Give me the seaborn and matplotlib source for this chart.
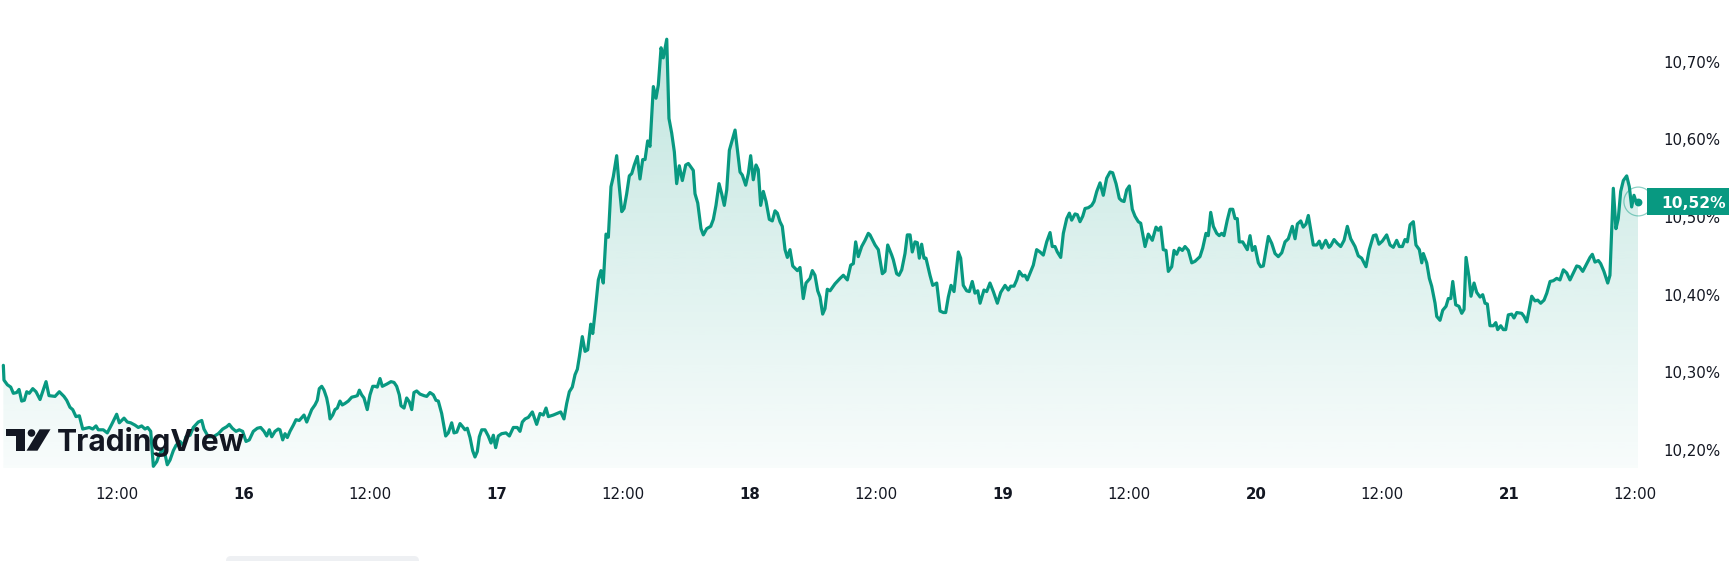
import numpy as np
import pandas as pd
import matplotlib
matplotlib.use("Agg")
import matplotlib.pyplot as plt
import matplotlib.transforms as mtransforms
from matplotlib.colors import LinearSegmentedColormap
from matplotlib.patches import Polygon, Rectangle, Circle, FancyBboxPatch
import seaborn as sns

# ---------------- data (hours since 15th 00:00, yield in %) ----------------
hours = [
    1.19, 1.25, 1.57, 1.89, 2.14, 2.46, 2.68, 2.93, 3.18, 3.41, 3.65, 3.98, 4.29, 4.67, 4.92,
    5.24, 5.52, 6.09, 6.50, 6.94, 7.20, 7.51, 7.77, 8.08, 8.40, 8.72, 9.03, 9.34, 9.67, 9.98,
    10.20, 10.67, 11.05, 11.47, 11.94, 12.19, 12.64, 12.95, 13.27, 13.68, 13.99, 14.31, 14.63, 14.88, 15.17,
    15.42, 15.74, 15.98, 16.27, 16.52, 16.74, 17.00, 17.31, 17.57, 17.95, 18.26, 18.52, 18.90, 19.21, 19.68,
    20.01, 20.22, 20.63, 21.11, 21.58, 22.00, 22.38, 22.62, 22.91, 23.26, 23.57, 23.89, 24.21, 24.52, 24.90,
    25.28, 25.60, 25.92, 26.17, 26.42, 26.65, 26.96, 27.27,
    27.43, 27.69, 27.91, 28.13, 28.38, 28.70, 28.95, 29.26, 29.71, 29.97, 30.21, 30.44, 30.75, 30.97, 31.16,
    31.39, 31.61, 31.86, 32.02, 32.18, 32.43, 32.65, 32.87, 33.12, 33.34, 33.60, 33.91, 34.24, 34.55, 34.77,
    34.96, 35.18, 35.40, 35.71, 35.97, 36.23, 36.45, 36.66, 36.92, 37.14, 37.58, 37.96, 38.25, 38.50, 38.75,
    38.91, 39.20, 39.45, 39.70, 39.93, 40.14, 40.40, 40.71, 41.09, 41.35, 41.66, 41.98, 42.23, 42.45, 42.77,
    43.15, 43.40, 43.72, 43.94, 44.20, 44.51, 44.76, 44.98, 45.20, 45.46, 45.71, 45.93, 46.15, 46.34, 46.57,
    46.88, 47.19, 47.45, 47.67, 47.89, 48.14, 48.46, 48.87, 49.19, 49.57, 49.94, 50.20, 50.42, 50.68, 50.99,
    51.37, 51.78, 52.10,
    52.41, 52.67, 52.89, 53.36, 54.06, 54.37, 54.63, 54.88, 55.16, 55.42, 55.64, 55.83, 56.11, 56.37, 56.62,
    56.91, 57.10, 57.31, 57.63, 57.88, 58.10, 58.36, 58.58, 58.83, 59.05, 59.37, 59.59, 59.85, 60.07, 60.32,
    60.57, 60.80, 61.04, 61.33, 61.58, 61.84, 62.06, 62.31, 62.53, 62.85, 63.10, 63.32, 63.58, 63.79, 64.12,
    64.33, 64.59, 64.84, 65.06, 65.31, 65.60, 65.92, 66.17, 66.64, 66.80, 67.06, 67.37, 67.59, 67.91, 68.29,
    68.54, 68.79, 69.08, 69.33, 69.58, 69.81, 70.06, 70.60, 71.07, 71.29, 71.61, 71.86, 72.08, 72.33, 72.59,
    72.80, 73.03, 73.28, 73.54, 73.85, 74.13, 74.39, 74.61, 74.86, 75.08, 75.34, 75.56, 75.81, 76.07, 76.51,
    76.76, 77.07, 77.33, 77.71, 77.93, 78.18, 78.44, 78.66,
    78.91, 79.13, 79.35, 79.61, 80.08, 80.56, 80.87, 81.25, 81.57, 81.82, 82.04, 82.29, 82.61, 82.93, 83.24,
    83.40, 83.88, 84.19, 84.57, 84.82, 85.08, 85.46, 85.61, 85.93, 86.15, 86.41, 86.72, 86.94, 87.20, 87.41,
    87.67, 87.89, 88.08, 88.30, 88.52, 88.71, 89.09, 89.35, 89.73, 90.04, 90.36, 90.58, 90.83, 91.09, 91.37,
    91.78, 92.00, 92.25, 92.57, 92.82, 93.10, 93.36, 93.62, 93.84, 94.21, 94.47, 94.78, 95.10, 95.48, 95.80,
    96.21, 96.52, 96.75, 97.06, 97.32, 97.56, 97.89, 98.10, 98.32, 98.65, 98.89, 99.21, 99.53, 99.84, 100.16,
    100.48, 100.69, 100.95, 101.17, 101.49, 101.74, 102.06, 102.31, 102.53, 102.85, 103.07, 103.32, 103.58, 103.80, 104.11,
    104.43, 104.65, 104.91, 105.22, 105.53, 105.85, 106.17, 106.42, 106.74, 107.05, 107.28, 107.50, 107.75, 108.00, 108.28,
    108.54, 108.85, 109.08, 109.49, 109.80, 110.18, 110.53, 110.75, 110.98, 111.22, 111.48, 111.70, 112.02, 112.24, 112.49,
    112.74, 113.03, 113.28, 113.60, 113.92, 114.23, 114.70, 114.96, 115.27, 115.49, 115.72, 115.97, 116.29, 116.53, 116.76,
    116.98, 117.29, 117.55, 117.81, 118.03, 118.24, 118.43, 118.75, 119.19, 119.45, 119.67, 119.92, 120.24, 120.46, 120.71,
    121.19, 121.51, 121.82, 122.13, 122.46, 122.77, 123.08, 123.46, 123.72, 123.94, 124.26, 124.50, 124.76, 124.98, 125.45,
    125.78, 126.02, 126.25, 126.63, 126.94, 127.10, 127.42, 127.73, 128.05, 128.37, 128.68, 129.00, 129.41, 129.72, 130.04,
    130.45, 130.76, 131.15, 131.40, 131.68, 132.00, 132.41, 132.73, 133.04, 133.36, 133.61, 133.90, 134.15, 134.37, 134.63,
    134.94, 135.19, 135.51, 135.74, 135.89, 136.21, 136.46, 136.68, 137.00, 137.16, 137.47, 137.73, 138.04, 138.26, 138.49,
    138.68, 138.96, 139.27, 139.53, 139.75, 139.94, 140.22, 140.41, 140.70, 140.95, 141.27, 141.52, 141.74, 141.96, 142.21,
    142.53, 142.76, 142.94, 143.23, 143.48, 143.70, 143.95, 144.27, 144.49, 144.75, 145.22, 145.44, 145.70, 146.17, 146.48,
    146.74, 147.02, 147.34, 147.60, 147.91, 148.22, 148.54, 148.85, 149.17, 149.49, 149.80, 150.12, 150.44, 150.69, 151.01,
    151.32, 151.70, 151.92, 152.17, 152.49, 152.71, 153.02, 153.38, 153.59, 153.91, 154.16, 154.38, 154.61, 154.86, 155.18,
    155.43, 155.65, 155.87, 156.06, 156.28,
]

yields = [
    10.309, 10.290, 10.284, 10.281, 10.273, 10.274, 10.278, 10.263, 10.264, 10.275, 10.273, 10.279, 10.275, 10.265, 10.275,
    10.288, 10.270, 10.269, 10.275, 10.269, 10.264, 10.255, 10.252, 10.243, 10.244, 10.227, 10.228, 10.229, 10.227, 10.231,
    10.226, 10.226, 10.222, 10.233, 10.246, 10.235, 10.241, 10.236, 10.235, 10.232, 10.229, 10.231, 10.227, 10.229, 10.224,
    10.179, 10.185, 10.194, 10.201, 10.195, 10.181, 10.187, 10.199, 10.206, 10.211, 10.206, 10.217, 10.219, 10.229, 10.236,
    10.238, 10.227, 10.217, 10.217, 10.221, 10.227, 10.230, 10.233, 10.228, 10.224, 10.226, 10.224, 10.211, 10.213, 10.224,
    10.228, 10.229, 10.224, 10.218, 10.226, 10.217, 10.224, 10.227,
    10.226, 10.213, 10.221, 10.216, 10.224, 10.232, 10.239, 10.238, 10.245, 10.236, 10.244, 10.252, 10.258, 10.264, 10.279,
    10.282, 10.277, 10.267, 10.256, 10.240, 10.245, 10.252, 10.254, 10.263, 10.258, 10.260, 10.263, 10.268, 10.269, 10.270,
    10.277, 10.271, 10.267, 10.252, 10.271, 10.282, 10.282, 10.281, 10.292, 10.282, 10.285, 10.288, 10.287, 10.282, 10.271,
    10.257, 10.254, 10.267, 10.262, 10.252, 10.274, 10.276, 10.272, 10.270, 10.269, 10.274, 10.271, 10.264, 10.263, 10.247,
    10.218, 10.222, 10.235, 10.222, 10.223, 10.234, 10.230, 10.226, 10.228, 10.216, 10.199, 10.191, 10.198, 10.217, 10.226,
    10.226, 10.218, 10.209, 10.219, 10.203, 10.218, 10.221, 10.222, 10.218, 10.229, 10.229, 10.224, 10.236, 10.240, 10.242,
    10.249, 10.233, 10.247,
    10.245, 10.254, 10.243, 10.245, 10.249, 10.240, 10.260, 10.275, 10.281, 10.297, 10.304, 10.320, 10.346, 10.327, 10.329,
    10.362, 10.350, 10.376, 10.419, 10.431, 10.415, 10.478, 10.474, 10.539, 10.552, 10.579, 10.543, 10.507, 10.511, 10.530,
    10.553, 10.556, 10.567, 10.578, 10.549, 10.574, 10.574, 10.598, 10.591, 10.668, 10.653, 10.670, 10.718, 10.705, 10.729,
    10.627, 10.608, 10.584, 10.543, 10.566, 10.547, 10.567, 10.569, 10.560, 10.530, 10.518, 10.485, 10.477, 10.485, 10.488,
    10.497, 10.515, 10.543, 10.530, 10.515, 10.535, 10.586, 10.612, 10.558, 10.554, 10.541, 10.556, 10.579, 10.548, 10.567,
    10.561, 10.515, 10.533, 10.520, 10.497, 10.495, 10.508, 10.505, 10.494, 10.488, 10.458, 10.448, 10.458, 10.437, 10.431,
    10.435, 10.395, 10.415, 10.421, 10.431, 10.425, 10.405, 10.397,
    10.375, 10.382, 10.407, 10.405, 10.414, 10.421, 10.425, 10.419, 10.438, 10.440, 10.468, 10.449, 10.462, 10.470, 10.479,
    10.477, 10.464, 10.458, 10.427, 10.430, 10.464, 10.451, 10.445, 10.427, 10.425, 10.432, 10.453, 10.477, 10.477, 10.455,
    10.468, 10.467, 10.447, 10.465, 10.447, 10.447, 10.425, 10.412, 10.415, 10.379, 10.377, 10.377, 10.397, 10.412, 10.404,
    10.455, 10.447, 10.412, 10.405, 10.404, 10.417, 10.402, 10.405, 10.389, 10.406, 10.404, 10.415, 10.404, 10.389, 10.403,
    10.412, 10.406, 10.411, 10.411, 10.419, 10.430, 10.424, 10.425, 10.419, 10.430, 10.438, 10.458, 10.455, 10.451, 10.468,
    10.480, 10.462, 10.462, 10.455, 10.448, 10.479, 10.498, 10.505, 10.496, 10.504, 10.503, 10.494, 10.501, 10.511, 10.512,
    10.515, 10.520, 10.533, 10.544, 10.528, 10.550, 10.558, 10.557, 10.543, 10.524, 10.521, 10.520, 10.535, 10.540, 10.510,
    10.501, 10.494, 10.492, 10.462, 10.478, 10.470, 10.487, 10.483, 10.487, 10.458, 10.457, 10.430, 10.436, 10.457, 10.452,
    10.460, 10.457, 10.462, 10.457, 10.441, 10.443, 10.449, 10.460, 10.479, 10.476, 10.506, 10.488, 10.479, 10.476, 10.479,
    10.476, 10.496, 10.510, 10.510, 10.498, 10.498, 10.468, 10.468, 10.458, 10.476, 10.457, 10.462, 10.441, 10.436, 10.437,
    10.475, 10.466, 10.453, 10.449, 10.454, 10.468, 10.472, 10.488, 10.472, 10.491, 10.495, 10.487, 10.491, 10.502, 10.464,
    10.464, 10.469, 10.460, 10.470, 10.461, 10.463, 10.471, 10.466, 10.462, 10.470, 10.488, 10.472, 10.462, 10.450, 10.447,
    10.436, 10.458, 10.476, 10.477, 10.465, 10.469, 10.477, 10.464, 10.461, 10.470, 10.462, 10.462, 10.471, 10.468, 10.490,
    10.494, 10.464, 10.458, 10.441, 10.453, 10.441, 10.421, 10.411, 10.389, 10.372, 10.367, 10.380, 10.385, 10.395, 10.395,
    10.417, 10.387, 10.385, 10.376, 10.381, 10.448, 10.423, 10.398, 10.415, 10.403, 10.397, 10.400, 10.389, 10.388, 10.360,
    10.360, 10.364, 10.355, 10.360, 10.355, 10.355, 10.374, 10.375, 10.370, 10.377, 10.376, 10.372, 10.365, 10.398, 10.392,
    10.393, 10.389, 10.393, 10.402, 10.417, 10.418, 10.421, 10.419, 10.432, 10.428, 10.419, 10.428, 10.437, 10.436, 10.430,
    10.438, 10.448, 10.452, 10.442, 10.444, 10.440, 10.430, 10.415, 10.425, 10.537, 10.485, 10.498, 10.533, 10.547, 10.553,
    10.539, 10.513, 10.528, 10.520, 10.520,
]

tick_hours = [12, 24, 36, 48, 60, 72, 84, 96, 108, 120, 132, 144, 156]
tick_labels = ["12:00", "16", "12:00", "17", "12:00", "18", "12:00", "19",
               "12:00", "20", "12:00", "21", "12:00"]
y_ticks = [10.2, 10.3, 10.4, 10.5, 10.6, 10.7]
y_tick_labels = ["10,20%", "10,30%", "10,40%", "10,50%", "10,60%", "10,70%"]
last_label = "10,52%"

df = pd.DataFrame({"hours": hours, "yield": yields})

# ---------------- styling ----------------
GREEN = "#089981"
TEXT = "#131722"
W, H = 1729, 561

sns.set_theme(style="white")
plt.rcParams["font.family"] = ["DejaVu Sans"]

fig = plt.figure(figsize=(W / 100, H / 100), dpi=100)
fig.patch.set_facecolor("white")
ax_bottom_px = 468
ax_right_px = 1650
ax = fig.add_axes([0, 1 - ax_bottom_px / H, ax_right_px / W, ax_bottom_px / H])
ax.set_facecolor("white")

sns.lineplot(data=df, x="hours", y="yield", ax=ax, color=GREEN, linewidth=2.3,
             zorder=4, estimator=None)

xlo, xhi = 0.873, 157.39
ymin, ymax = 10.1768, 10.7795

# gradient area under the line
h = np.asarray(hours)
v = np.asarray(yields)
verts = [(h[0], ymin)] + list(zip(h, v)) + [(h[-1], ymin)]
poly = Polygon(verts, closed=True, facecolor="none", edgecolor="none")
ax.add_patch(poly)
cmap = LinearSegmentedColormap.from_list(
    "tvgrad", [(8 / 255, 153 / 255, 129 / 255, 0.03), (8 / 255, 153 / 255, 129 / 255, 0.25)])
grad = np.linspace(0, 1, 256).reshape(-1, 1)
im = ax.imshow(grad, extent=[h[0], h[-1], ymin, v.max()], origin="lower",
               aspect="auto", cmap=cmap, zorder=2, interpolation="bilinear")
im.set_clip_path(poly)
ax.set_xlim(xlo, xhi)
ax.set_ylim(ymin, ymax)

# last point marker
ax.scatter([h[-1]], [v[-1]], s=32, color=GREEN, zorder=6, linewidths=0)
ax.scatter([h[-1]], [v[-1]], s=430, facecolors="none", edgecolors=GREEN,
           linewidths=0.9, alpha=0.45, zorder=6)

# axes / ticks
for s in ax.spines.values():
    s.set_visible(False)
ax.set_xlabel("")
ax.set_ylabel("")
ax.grid(False)

ax.set_xticks(tick_hours)
ax.set_xticklabels(tick_labels)
ax.tick_params(axis="x", length=0, pad=13.4, labelsize=10.8, labelcolor=TEXT)
for lab in ax.get_xticklabels():
    if ":" not in lab.get_text():
        lab.set_fontweight("bold")

ax.yaxis.tick_right()
ax.set_yticks(y_ticks)
ax.set_yticklabels(y_tick_labels)
ax.tick_params(axis="y", length=0, pad=9.4, labelsize=10.8, labelcolor=TEXT)

# price label on the scale
blend = mtransforms.blended_transform_factory(fig.transFigure, ax.transData)
half = 13.5 / 776.6
fig.add_artist(Rectangle((1646.7 / W, v[-1] - half), 1 - 1646.7 / W, 2 * half,
                         transform=blend, facecolor=GREEN, edgecolor="none", zorder=10))
fig.text(1661 / W, v[-1], last_label, transform=blend, color="white", fontsize=11.2,
         fontweight="bold", va="center_baseline", ha="left", zorder=11)

# TradingView watermark
px = mtransforms.Affine2D().scale(1 / W, -1 / H).translate(0, 1) + fig.transFigure
logo_color = "#131722"
fig.add_artist(Rectangle((6, 429.3), 19, 7.2, transform=px, facecolor=logo_color,
                         edgecolor="none", zorder=8))
fig.add_artist(Rectangle((16.5, 429.3), 8.5, 21.4, transform=px, facecolor=logo_color,
                         edgecolor="none", zorder=8))
fig.add_artist(Circle((31.5, 433.0), 3.8, transform=px, facecolor=logo_color,
                      edgecolor="none", zorder=8))
fig.add_artist(Polygon([(26.5, 450.7), (37.5, 450.7), (50.5, 429.3), (39.5, 429.3)],
                       closed=True, transform=px, facecolor=logo_color,
                       edgecolor="none", zorder=8))
fig.text(57 / W, 1 - 450.7 / H, "TradingView", family=["Inter", "DejaVu Sans"],
         fontsize=21.6, fontweight="bold", color=logo_color, va="baseline",
         ha="left", zorder=8)

# faint pill at the bottom edge
fig.add_artist(FancyBboxPatch((226, 556), 193, 12, boxstyle="round,pad=0,rounding_size=5",
                              transform=px, facecolor="#eef0f3", edgecolor="none", zorder=1))

fig.savefig("out.png", dpi=100, facecolor="white")
